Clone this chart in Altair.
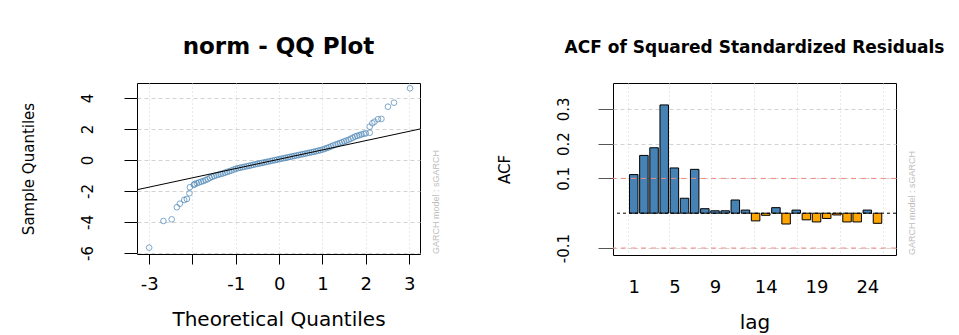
import altair as alt
import pandas as pd

# ---------------- data ----------------
qq_x = [-3.00, -2.67, -2.48, -2.36, -2.29, -2.19, -2.13, -2.07, -2.06, -1.97,
        -1.95, -1.90, -1.85, -1.80, -1.75, -1.70, -1.65, -1.60, -1.55, -1.50,
        -1.45, -1.40, -1.35, -1.30, -1.25, -1.20, -1.15, -1.10, -1.05, -1.00,
        -0.95, -0.90, -0.85, -0.80, -0.75, -0.70, -0.65, -0.60, -0.55, -0.50,
        -0.45, -0.40, -0.35, -0.30, -0.25, -0.20, -0.15, -0.10, -0.05, 0.00,
        0.05, 0.10, 0.15, 0.20, 0.25, 0.30, 0.35, 0.40, 0.45, 0.50,
        0.55, 0.60, 0.65, 0.70, 0.75, 0.80, 0.85, 0.90, 0.95, 1.00,
        1.05, 1.10, 1.15, 1.20, 1.25, 1.30, 1.35, 1.40, 1.45, 1.50,
        1.55, 1.60, 1.65, 1.70, 1.75, 1.80, 1.85, 1.90, 1.95, 2.00,
        2.09, 2.09, 2.15, 2.20, 2.28, 2.36, 2.51, 2.65, 3.02]
qq_y = [-5.66, -3.94, -3.83, -3.05, -2.82, -2.58, -2.52, -2.15, -1.76, -1.61,
        -1.55, -1.50, -1.45, -1.40, -1.36, -1.30, -1.24, -1.16, -1.09, -1.04,
        -0.99, -0.95, -0.91, -0.87, -0.82, -0.77, -0.73, -0.68, -0.62, -0.57,
        -0.53, -0.50, -0.47, -0.44, -0.41, -0.38, -0.35, -0.31, -0.28, -0.25,
        -0.22, -0.19, -0.16, -0.13, -0.10, -0.07, -0.04, -0.01, 0.02, 0.05,
        0.08, 0.11, 0.14, 0.17, 0.20, 0.23, 0.26, 0.29, 0.32, 0.35,
        0.38, 0.41, 0.44, 0.47, 0.50, 0.53, 0.56, 0.60, 0.63, 0.67,
        0.72, 0.77, 0.82, 0.88, 0.94, 0.99, 1.04, 1.09, 1.14, 1.20,
        1.25, 1.30, 1.37, 1.44, 1.51, 1.56, 1.60, 1.65, 1.69, 1.72,
        1.76, 2.15, 2.37, 2.47, 2.63, 2.65, 3.44, 3.70, 4.63]
qqline_x = [-3.28, 3.25]
qqline_y = [-1.92, 2.00]

acf_lag = list(range(1, 26))
acf_val = [0.111, 0.166, 0.188, 0.311, 0.130, 0.043, 0.126, 0.013, 0.007, 0.007,
           0.038, 0.009, -0.022, -0.006, 0.016, -0.031, 0.009, -0.019, -0.025, -0.015,
           -0.005, -0.025, -0.025, 0.009, -0.029]
conf_bounds = [0.1, -0.1]
zero_line = [0.0]

qq_title = "norm - QQ Plot"
acf_title = "ACF of Squared Standardized Residuals"
garch_label = "GARCH model : sGARCH"

FONT = "DejaVu Sans"
BLUE = "#4682B4"
ORANGE = "#FFA500"
GRID = "#D3D3D3"

# ---------------- left panel: QQ plot ----------------
qq_df = pd.DataFrame({"x": qq_x, "y": qq_y})
line_df = pd.DataFrame({"x": qqline_x, "y": qqline_y})

xs = alt.Scale(domain=[-3.28, 3.25], nice=False, zero=False)
ys = alt.Scale(domain=[-6.07, 4.97], nice=False, zero=False)

qx_axis = alt.Axis(values=[-3, -2, -1, 0, 1, 2, 3], orient="bottom",
                   labelExpr="datum.value == -2 ? '' : '' + datum.value",
                   title="Theoretical Quantiles", grid=True, gridColor=GRID,
                   gridDash=[1, 3], domain=False, tickColor="black", tickSize=10,
                   labelFontSize=18, labelPadding=11, titleFontSize=20,
                   titlePadding=16, labelOverlap=False)
qy_axis = alt.Axis(values=[-6, -4, -2, 0, 2, 4], labelExpr="'' + datum.value",
                   orient="left", tickCount=6,
                   title="Sample Quantiles", grid=True, gridColor=GRID,
                   gridDash=[4, 3], domain=False, tickColor="black", tickSize=13,
                   labelAngle=270, labelAlign="center", labelBaseline="bottom",
                   labelFontSize=15, labelPadding=29, titleFontSize=15,
                   titlePadding=44, labelOverlap=False, labelSeparation=0)

points = alt.Chart(qq_df).mark_point(shape="circle", filled=False, size=32,
                                     strokeWidth=1, color=BLUE, clip=True).encode(
    x=alt.X("x:Q", scale=xs, axis=qx_axis),
    y=alt.Y("y:Q", scale=ys, axis=qy_axis),
)
qqline = alt.Chart(line_df).mark_line(color="black", strokeWidth=1, clip=True).encode(
    x=alt.X("x:Q", scale=xs, axis=qx_axis),
    y=alt.Y("y:Q", scale=ys, axis=qy_axis),
)

garch_df = pd.DataFrame({"t": [garch_label]})
garch_left = alt.Chart(garch_df).mark_text(angle=270, align="left", baseline="middle",
                                           font="Liberation Sans", fontSize=9,
                                           color="#BDBDBD").encode(
    x=alt.value(299), y=alt.value(171), text="t:N")

left = alt.layer(points, qqline, garch_left).properties(
    width=283, height=171,
    title=alt.TitleParams(qq_title, fontSize=23, font=FONT, fontWeight="bold",
                          anchor="middle", frame="group", offset=24, color="black"))

# ---------------- right panel: ACF ----------------
acf_df = pd.DataFrame({"lag": acf_lag, "acf": acf_val})
conf_df = pd.DataFrame({"acf": conf_bounds})
zero_df = pd.DataFrame({"acf": zero_line})

axs = alt.Scale(domain=[-0.55, 26.33], nice=False, zero=False)
ays = alt.Scale(domain=[-0.12, 0.374], nice=False, zero=False)

acf_y_axis = alt.Axis(values=[-0.1, 0.1, 0.2, 0.3], labelExpr="'' + datum.value",
                      orient="left", title="ACF", grid=True, gridColor=GRID,
                      gridDash=[4, 3], domain=False, tickColor="#555555", tickSize=15,
                      labelAngle=270, labelAlign="center", labelBaseline="bottom",
                      labelFontSize=15, labelPadding=27, titleFontSize=15,
                      titlePadding=44, labelOverlap=False)

grid_layer = alt.Chart(acf_df).mark_point(opacity=0).encode(
    x=alt.X("lag:Q", scale=axs,
            axis=alt.Axis(values=[0.4, 4.52, 8.65, 12.84, 17.07, 21.3, 25.5],
                          orient="top", grid=True, gridColor=GRID, gridDash=[1, 3],
                          labels=False, ticks=False, domain=False, title=None)),
)

bars = alt.Chart(acf_df).mark_bar(size=8.5, stroke="black", strokeWidth=1).encode(
    x=alt.X("lag:Q", scale=axs,
            axis=alt.Axis(values=[1, 5, 9, 14, 19, 24], orient="bottom", grid=False,
                          ticks=False, domain=False, title="lag", labelFontSize=18,
                          labelPadding=23, titleFontSize=20, titlePadding=16,
                          labelOverlap=False)),
    y=alt.Y("acf:Q", scale=ays, axis=acf_y_axis),
    color=alt.condition("datum.acf >= 0", alt.value(BLUE), alt.value(ORANGE)),
)

conf_rules = alt.Chart(conf_df).mark_rule(color="#F08A80", strokeDash=[5, 5],
                                          strokeWidth=1).encode(
    y=alt.Y("acf:Q", scale=ays, axis=acf_y_axis))
zero_rule = alt.Chart(zero_df).mark_rule(color="black", strokeDash=[3, 3],
                                         strokeWidth=1).encode(
    y=alt.Y("acf:Q", scale=ays, axis=acf_y_axis))

garch_right = alt.Chart(garch_df).mark_text(angle=270, align="left", baseline="middle",
                                            font="Liberation Sans", fontSize=9,
                                            color="#BDBDBD").encode(
    x=alt.value(299), y=alt.value(172), text="t:N")

right = alt.layer(grid_layer, bars, conf_rules, zero_rule, garch_right).resolve_axis(
    x="independent").properties(
    width=283, height=172,
    title=alt.TitleParams(acf_title, fontSize=17, font=FONT, fontWeight="bold",
                          anchor="middle", frame="group", offset=26, color="black"))

chart = alt.hconcat(left, right, spacing=193, bounds="flush").properties(
    padding={"left": 12, "top": 27, "right": 2, "bottom": 2},
    background="white",
).configure_view(stroke="black", strokeWidth=1).configure_axis(
    labelFont=FONT, titleFont=FONT, labelColor="black", titleColor="black",
    titleFontWeight="normal")

chart.save("out.html", embed_options={"renderer": "svg", "actions": False})
